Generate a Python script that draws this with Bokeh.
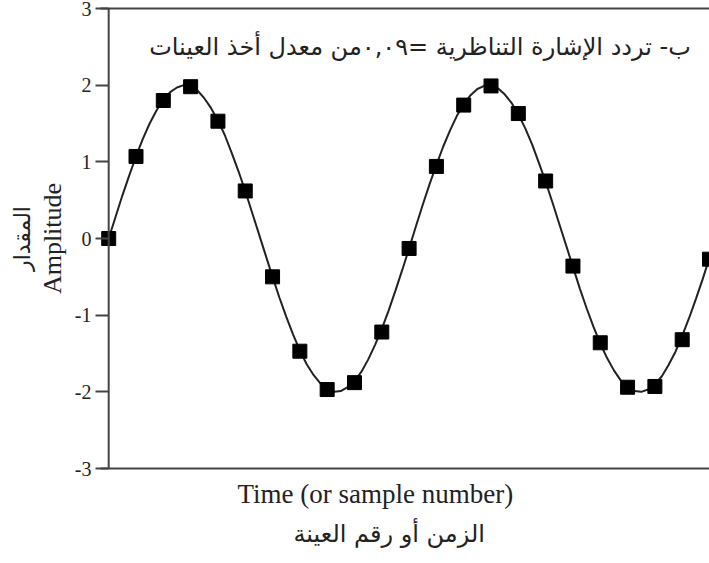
from bokeh.plotting import figure
from bokeh.models import Range1d, LinearAxis, FixedTicker, Span, Label, Title
from bokeh.embed import file_html
from bokeh.resources import INLINE

sample_n = list(range(23))
sample_amp = [0.0, 1.07, 1.80, 1.98, 1.53, 0.62, -0.50, -1.47, -1.97, -1.88, -1.22,
              -0.13, 0.94, 1.74, 1.99, 1.63, 0.75, -0.36, -1.36, -1.94, -1.93, -1.32, -0.27]

# continuous analog curve, read at quarter-sample steps
curve_t = [i / 4 for i in range(89)]
curve_amp = [0.00, 0.28, 0.56, 0.82, 1.07, 1.30, 1.50, 1.67, 1.81, 1.91, 1.97, 2.00,
             1.98, 1.93, 1.83, 1.70, 1.54, 1.35, 1.12, 0.88, 0.62, 0.34, 0.06,
             -0.22, -0.50, -0.77, -1.02, -1.25, -1.46, -1.64, -1.78, -1.89, -1.96, -2.00,
             -1.99, -1.94, -1.86, -1.74, -1.58, -1.39, -1.18, -0.94, -0.68, -0.41, -0.13,
             0.16, 0.44, 0.71, 0.96, 1.20, 1.41, 1.60, 1.75, 1.87, 1.95, 1.99,
             2.00, 1.96, 1.88, 1.77, 1.62, 1.44, 1.23, 0.99, 0.74, 0.47, 0.19,
             -0.09, -0.37, -0.65, -0.91, -1.15, -1.37, -1.56, -1.72, -1.85, -1.94, -1.99,
             -2.00, -1.97, -1.90, -1.80, -1.65, -1.48, -1.27, -1.04, -0.79, -0.53, -0.25]

y_ticks = [-3, -2, -1, 0, 1, 2, 3]
y_tick_labels = {-3: "-3", -2: "-2", -1: "-1", 0: "0", 1: "1", 2: "2", 3: "3"}

title_text = "ب- تردد الإشارة التناظرية =٠,٠٩من معدل أخذ العينات"
x_label_en = "Time (or sample number)"
x_label_ar = "الزمن أو رقم العينة"
y_label_en = "Amplitude"
y_label_ar = "المقدار"

AXC = "#444444"
TXC = "#222222"

p = figure(width=709, height=563, output_backend="svg", toolbar_location=None,
           x_range=Range1d(-0.3, 22.0), y_range=Range1d(-3, 3),
           x_axis_location=None, y_axis_location=None,
           min_border_left=100, min_border_right=0, min_border_top=8, min_border_bottom=95)
p.outline_line_color = None
p.xgrid.visible = False
p.ygrid.visible = False
p.background_fill_color = "white"
p.border_fill_color = "white"

# left axis
yaxis = LinearAxis(ticker=FixedTicker(ticks=y_ticks), axis_label=y_label_en,
                   major_label_overrides=y_tick_labels,
                   axis_line_color=None, major_tick_line_color=AXC, major_tick_line_width=2,
                   major_tick_out=5, major_tick_in=8, minor_tick_line_color=None,
                   major_label_standoff=4, major_label_text_font="Liberation Serif",
                   major_label_text_font_size="20px", major_label_text_color=TXC,
                   axis_label_text_font="Liberation Serif", axis_label_text_font_size="26px",
                   axis_label_text_font_style="normal", axis_label_text_color=TXC,
                   axis_label_standoff=5)
p.add_layout(yaxis, "left")
p.add_layout(Title(text=y_label_ar, align="center", text_font="DejaVu Sans",
                   text_font_size="22px", text_font_style="normal", text_color=TXC,
                   standoff=0), "left")

# bottom axis (line only)
xaxis = LinearAxis(ticker=FixedTicker(ticks=[]),
                   axis_line_color=AXC, axis_line_width=2, major_tick_line_color=None,
                   minor_tick_line_color=None, major_label_text_font_size="0px")
p.add_layout(xaxis, "below")
p.add_layout(Title(text=x_label_en, align="left", offset=137, text_font="Liberation Serif",
                   text_font_size="27px", text_font_style="normal", text_color=TXC,
                   standoff=17), "below")
p.add_layout(Title(text=x_label_ar, align="left", offset=193, text_font="DejaVu Sans",
                   text_font_size="24px", text_font_style="normal", text_color=TXC,
                   standoff=0), "below")

# top border
top = LinearAxis(ticker=FixedTicker(ticks=[]), axis_line_color=AXC, axis_line_width=2,
                 major_tick_line_color=None, minor_tick_line_color=None,
                 major_label_text_font_size="0px")
p.add_layout(top, "above")

# vertical axis line at time 0
p.add_layout(Span(location=0, dimension="height", line_color=AXC, line_width=2))

p.line(curve_t, curve_amp, line_color="#222222", line_width=2)
p.scatter(sample_n, sample_amp, marker="square", size=14, fill_color="black", line_color="black")

p.add_layout(Label(x=11.4, y=2.5, text=title_text, text_align="center", text_baseline="middle",
                   text_font="DejaVu Sans", text_font_size="24px", text_color=TXC))

open("out.html", "w").write(file_html(p, INLINE))
